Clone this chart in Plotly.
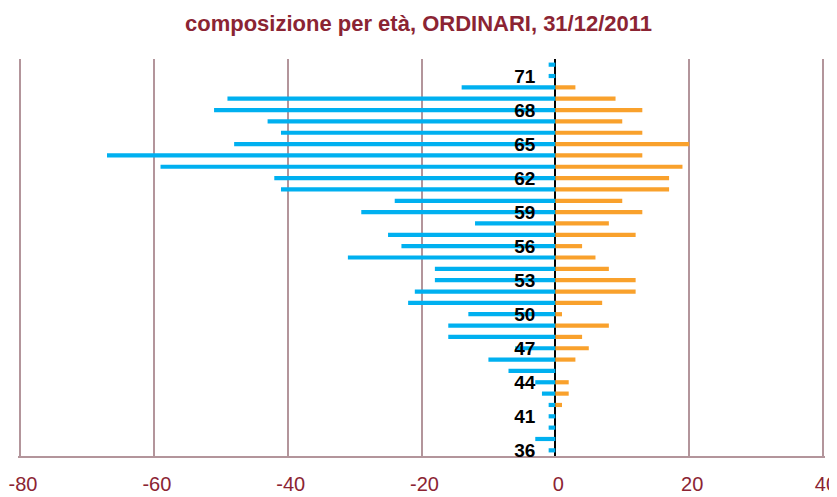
import plotly.graph_objects as go

ages = ["36", "38", "39", "41", "42", "43", "44", "45", "46", "47", "48", "49",
        "50", "51", "52", "53", "54", "55", "56", "57", "58", "59", "60", "61",
        "62", "63", "64", "65", "66", "67", "68", "69", "70", "71", "72"]
left_values = [-1, -3, -1, -1, -1, -2, -3, -7, -10, -6, -16, -16,
               -13, -22, -21, -18, -18, -31, -23, -25, -12, -29, -24, -41,
               -42, -59, -67, -48, -41, -43, -51, -49, -14, -1, -1]
right_values = [0, 0, 0, 0, 1, 2, 2, 0, 3, 5, 4, 8,
                1, 7, 12, 12, 8, 6, 4, 12, 8, 13, 10, 17,
                17, 19, 13, 20, 13, 10, 13, 9, 3, 0, 0]
label_ages = ["36", "41", "44", "47", "50", "53", "56", "59", "62", "65", "68", "71"]
x_ticks = [-80, -60, -40, -20, 0, 20, 40]

BLUE = "#00B0F0"
ORANGE = "#F9A12C"
GRID = "#B3959B"
RED = "#8B2433"

W, H = 829, 489  # page body adds an 8px offset
X_MIN, X_MAX = -80.3, 40.3

fig = go.Figure()
fig.add_trace(go.Bar(y=ages, x=left_values, orientation="h", marker_color=BLUE,
                     marker_line_width=0, width=0.37, showlegend=False))
fig.add_trace(go.Bar(y=ages, x=right_values, orientation="h", marker_color=ORANGE,
                     marker_line_width=0, width=0.37, showlegend=False))

fig.update_layout(
    width=W, height=H,
    margin=dict(l=10, r=12, t=51, b=41),
    paper_bgcolor="white", plot_bgcolor="white",
    barmode="overlay",
    title=dict(text="<b>composizione per età, ORDINARI, 31/12/2011</b>",
               x=410.5 / W, xanchor="center", y=1 - 15 / H, yref="container", yanchor="middle",
               font=dict(family="Liberation Sans, Arial, sans-serif", size=22, color=RED)),
    xaxis=dict(range=[X_MIN, X_MAX], tickvals=x_ticks, ticktext=[str(v) for v in x_ticks],
               showgrid=True, gridcolor=GRID, gridwidth=1.5,
               zeroline=True, zerolinecolor="black", zerolinewidth=2,
               showline=True, linecolor=GRID, linewidth=2,
               ticks="", ticklabelstandoff=9, ticklabelshift=3,
               layer="above traces", automargin=False,
               ticklabeloverflow="allow",
               tickfont=dict(family="Liberation Sans, Arial, sans-serif",
                             size=20, color=RED)),
    yaxis=dict(type="category", categoryorder="array", categoryarray=ages,
               range=[-0.5, len(ages) - 0.5],
               tickvals=label_ages, ticktext=["<b>" + a + "</b>" for a in label_ages],
               anchor="free", position=(0 - X_MIN) / (X_MAX - X_MIN), side="left",
               showgrid=False, zeroline=False, showline=False, ticks="",
               ticklabelstandoff=20, automargin=False,
               tickfont=dict(family="Liberation Sans, Arial, sans-serif",
                             size=19, color="black")),
)

fig.write_html("out.html")
